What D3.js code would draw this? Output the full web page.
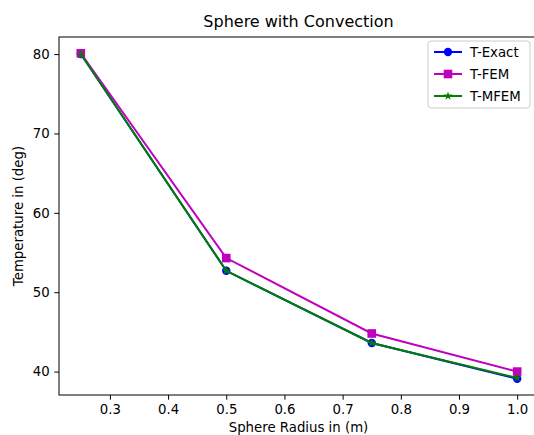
<!DOCTYPE html>
<html><head><meta charset="utf-8">
<script src="https://cdn.jsdelivr.net/npm/d3@7"></script>
<style>body{margin:0;background:#fff}svg{display:block;font-family:"DejaVu Sans",sans-serif}</style>
</head><body>
<script>
const radius = [0.25, 0.5, 0.75, 1.0];
const tExact = [80.0, 52.7, 43.6, 39.1];
const tFEM = [80.1, 54.3, 44.8, 40.0];
const tMFEM = [80.0, 52.7, 43.6, 39.2];
const seriesNames = ["T-Exact", "T-FEM", "T-MFEM"];
const xTicks = [0.3, 0.4, 0.5, 0.6, 0.7, 0.8, 0.9, 1.0];
const yTicks = [40, 50, 60, 70, 80];

const W = 534, H = 435;
const svg = d3.select("body").append("svg").attr("width", W).attr("height", H);
const L = 59, R = 539, T = 37, B = 395;
const x = d3.scaleLinear().domain([0.2125, 1.0375]).range([L, R]);
const y = d3.scaleLinear().domain([37.05, 82.15]).range([B, T]);

const series = [
  {name: seriesNames[0], vals: tExact, color: "#0000ff", marker: "circle"},
  {name: seriesNames[1], vals: tFEM, color: "#bf00bf", marker: "square"},
  {name: seriesNames[2], vals: tMFEM, color: "#008000", marker: "star"}
];

function drawMarker(g, type, color, cx, cy) {
  if (type === "circle") g.append("circle").attr("cx", cx).attr("cy", cy).attr("r", 4.2).attr("fill", color);
  else if (type === "square") g.append("rect").attr("x", cx - 4.3).attr("y", cy - 4.3).attr("width", 8.6).attr("height", 8.6).attr("fill", color);
  else g.append("path").attr("transform", `translate(${cx},${cy})`).attr("d", d3.symbol(d3.symbolStar, 24)()).attr("fill", color);
}

const xAxis = svg.append("g").attr("transform", `translate(0,${B})`)
  .call(d3.axisBottom(x).tickValues(xTicks).tickFormat(d3.format(".1f")).tickSize(4.7).tickPadding(4.7));
const yAxis = svg.append("g").attr("transform", `translate(${L},0)`)
  .call(d3.axisLeft(y).tickValues(yTicks).tickFormat(d3.format("d")).tickSize(4.7).tickPadding(4.7));
[xAxis, yAxis].forEach(a => {
  a.select(".domain").remove();
  a.selectAll("text").attr("font-size", 13.3).attr("fill", "#000").attr("font-family", "DejaVu Sans");
  a.selectAll("line").attr("stroke", "#000").attr("stroke-width", 1);
});

const plot = svg.append("g");
const line = d3.line().x((d, i) => x(radius[i])).y(d => y(d));
series.forEach(s => {
  plot.append("path").attr("d", line(s.vals)).attr("fill", "none").attr("stroke", s.color).attr("stroke-width", 2);
  s.vals.forEach((v, i) => drawMarker(plot, s.marker, s.color, x(radius[i]), y(v)));
});

svg.append("rect").attr("x", L).attr("y", T).attr("width", R - L).attr("height", B - T)
  .attr("fill", "none").attr("stroke", "#000").attr("stroke-width", 1);

svg.append("text").attr("x", 298.5).attr("y", 26.5).attr("text-anchor", "middle")
  .attr("font-size", 16).text("Sphere with Convection");
svg.append("text").attr("x", 298.5).attr("y", 431.5).attr("text-anchor", "middle")
  .attr("font-size", 13.3).text("Sphere Radius in (m)");
svg.append("text").attr("transform", `translate(23,${(T + B) / 2}) rotate(-90)`).attr("text-anchor", "middle")
  .attr("font-size", 13.3).text("Temperature in (deg)");

const lg = svg.append("g");
lg.append("rect").attr("x", 428).attr("y", 41).attr("width", 102).attr("height", 67).attr("rx", 3)
  .attr("fill", "#fff").attr("fill-opacity", 0.8).attr("stroke", "#ccc").attr("stroke-width", 1);
series.forEach((s, i) => {
  const cy = 52 + i * 22;
  lg.append("line").attr("x1", 434).attr("x2", 462).attr("y1", cy).attr("y2", cy).attr("stroke", s.color).attr("stroke-width", 2);
  drawMarker(lg, s.marker, s.color, 448, cy);
  lg.append("text").attr("x", 470).attr("y", cy + 5).attr("font-size", 13.3).text(s.name);
});
</script>
</body></html>
